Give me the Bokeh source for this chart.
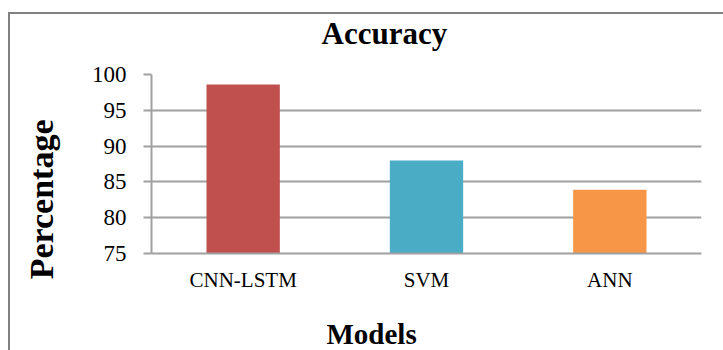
from bokeh.plotting import figure
from bokeh.models import FactorRange, Range1d, FixedTicker, Title, GlobalInlineStyleSheet
from bokeh.embed import file_html
from bokeh.resources import INLINE

# ---- data ----
models = ["CNN-LSTM", "SVM", "ANN"]
accuracy = [98.6, 88.0, 83.9]
y_ticks = [75, 80, 85, 90, 95, 100]
title_text = "Accuracy"
x_title = "Models"
y_title = "Percentage"

# ---- styles ----
bar_colors = ["#C0504D", "#4BACC6", "#F79646"]
grid_color = "#a0a0a0"
serif = "Liberation Serif"

BL, BR, BT, BB = 190, 60, 110, 140     # canvas borders around the plot frame
FW, FH = 550, 179                      # plot frame size

p = figure(
    x_range=FactorRange(factors=models),
    y_range=Range1d(75, 100),
    width=BL + FW + BR, height=BT + FH + BB,
    output_backend="svg", toolbar_location=None,
    min_border_left=BL, min_border_right=BR,
    min_border_top=BT, min_border_bottom=BB,
)
p.styles = {"position": "absolute", "left": f"{151 - BL}px", "top": f"{74 - BT}px"}
page_css = """
html, body { overflow: hidden; background: white; }
body::before {
  content: ""; position: fixed; left: 8px; top: 12px; width: 800px; height: 400px;
  border-top: 2px solid #808080; border-left: 2px solid #808080;
  z-index: 10; pointer-events: none;
}
"""
p.stylesheets = [GlobalInlineStyleSheet(css=page_css)]

p.vbar(x=models, top=accuracy, bottom=75, width=0.4, color=bar_colors, line_color=None)

p.outline_line_color = None
p.background_fill_color = "white"
p.border_fill_color = "white"

p.xgrid.grid_line_color = None
p.ygrid.grid_line_color = grid_color
p.ygrid.grid_line_width = 2

ya = p.yaxis[0]
ya.ticker = FixedTicker(ticks=y_ticks)
ya.axis_line_color = grid_color
ya.axis_line_width = 2
ya.major_tick_line_color = grid_color
ya.major_tick_line_width = 2
ya.major_tick_out = 8
ya.major_tick_in = 0
ya.minor_tick_line_color = None
ya.major_label_standoff = 17
ya.major_label_text_font = serif
ya.major_label_text_font_size = "23px"
ya.major_label_text_color = "black"

xa = p.xaxis[0]
xa.axis_line_color = grid_color
xa.axis_line_width = 2
xa.major_tick_line_color = None
xa.major_tick_out = 0
xa.major_tick_in = 0
xa.minor_tick_line_color = None
xa.major_label_standoff = 14
xa.major_label_text_font = serif
xa.major_label_text_font_size = "21px"
xa.major_label_text_color = "black"

# chart title
p.title.text = title_text
p.title.align = "left"
p.title.offset = 170
p.title.standoff = 48
p.title.text_font = serif
p.title.text_font_size = "31px"
p.title.text_font_style = "bold"
p.title.text_color = "black"

# x axis title
p.add_layout(Title(text=x_title, align="left", offset=175, vertical_align="top",
                   standoff=47, text_font=serif, text_font_size="29px",
                   text_font_style="bold", text_color="black"), "below")

# y axis title
p.add_layout(Title(text=y_title, align="right", offset=45, vertical_align="bottom",
                   standoff=58, text_font=serif, text_font_size="34px",
                   text_font_style="bold", text_color="black"), "left")

open("out.html", "w").write(file_html(p, INLINE))
